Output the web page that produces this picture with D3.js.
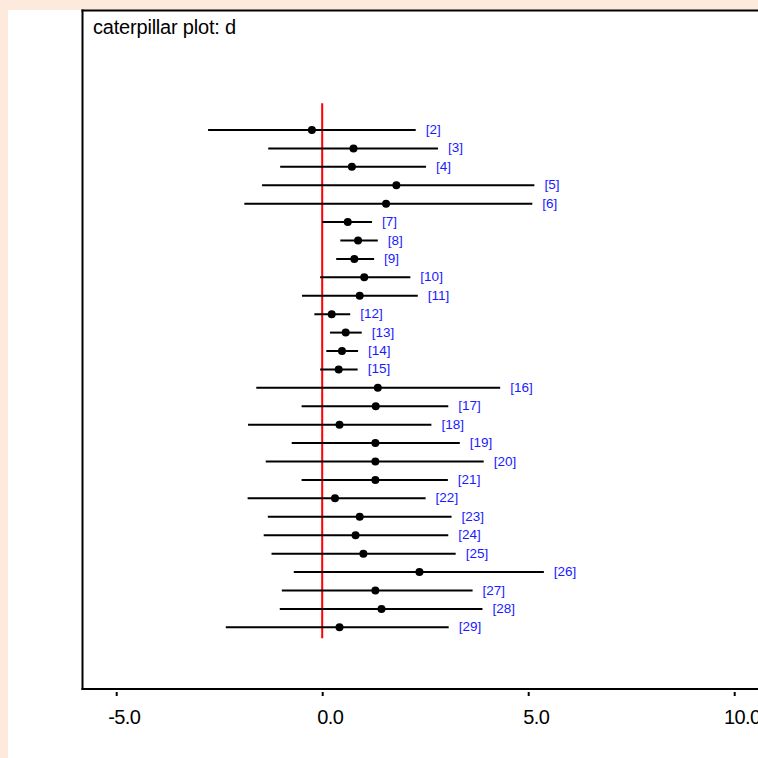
<!DOCTYPE html>
<html>
<head>
<meta charset="utf-8">
<script src="https://cdn.jsdelivr.net/npm/d3@7"></script>
<style>
  html, body { margin: 0; padding: 0; background: #fdeadc; }
  svg { display: block; }
</style>
</head>
<body>
<svg id="chart" width="758" height="758"></svg>
<script>
// Node labels, posterior means and interval bounds for each row
const nodes = ["[2]","[3]","[4]","[5]","[6]","[7]","[8]","[9]","[10]","[11]","[12]","[13]","[14]","[15]",
               "[16]","[17]","[18]","[19]","[20]","[21]","[22]","[23]","[24]","[25]","[26]","[27]","[28]","[29]"];
const means = [-0.25, 0.76, 0.72, 1.80, 1.55, 0.62, 0.87, 0.78, 1.02, 0.91, 0.23, 0.57, 0.48, 0.40,
               1.35, 1.30, 0.42, 1.29, 1.29, 1.29, 0.31, 0.91, 0.81, 1.00, 2.36, 1.29, 1.44, 0.42];
const lower = [-2.77, -1.31, -1.02, -1.46, -1.89, 0.00, 0.44, 0.34, -0.05, -0.49, -0.19, 0.19, 0.10, -0.05,
               -1.60, -0.50, -1.80, -0.74, -1.37, -0.50, -1.81, -1.32, -1.42, -1.23, -0.69, -0.98, -1.03, -2.34];
const upper = [2.27, 2.81, 2.52, 5.15, 5.10, 1.21, 1.35, 1.26, 2.14, 2.32, 0.68, 0.96, 0.87, 0.86,
               4.32, 3.06, 2.65, 3.34, 3.92, 3.05, 2.51, 3.14, 3.06, 3.24, 5.38, 3.65, 3.89, 3.07];
const xTicks = [-5, 0, 5, 10];
const title = "caterpillar plot: d";
const refValue = 0;

const rows = nodes.map((n, i) => ({ name: n, mean: means[i], lo: lower[i], hi: upper[i], i }));

const svg = d3.select("#chart");
const font = "'Liberation Sans', Arial, sans-serif";

// white panel on the peach page
svg.append("rect").attr("x", 8).attr("y", 10).attr("width", 750).attr("height", 748).attr("fill", "#ffffff");

const x = d3.scaleLinear().domain([-5, 10]).range([116.2, 734.2]);
const y = d3.scaleLinear().domain([0, rows.length - 1]).range([130, 627.3]);

const frameLeft = 82.5, frameTop = 10.5, frameBottom = 689;

// reference line at zero
svg.append("line")
  .attr("x1", x(refValue)).attr("x2", x(refValue))
  .attr("y1", y(-1.45)).attr("y2", y(rows.length - 1 + 0.6))
  .attr("stroke", "#ff0000").attr("stroke-width", 2);

// interval lines
svg.append("g").selectAll("line").data(rows).join("line")
  .attr("x1", d => x(d.lo)).attr("x2", d => x(d.hi))
  .attr("y1", d => y(d.i)).attr("y2", d => y(d.i))
  .attr("stroke", "#000").attr("stroke-width", 2);

// means
svg.append("g").selectAll("circle").data(rows).join("circle")
  .attr("cx", d => x(d.mean)).attr("cy", d => y(d.i)).attr("r", 4)
  .attr("fill", "#000");

// node labels
svg.append("g").selectAll("text").data(rows).join("text")
  .attr("x", d => x(d.hi) + 10).attr("y", d => y(d.i))
  .attr("dy", "0.3em")
  .attr("font-family", font).attr("font-size", 13.5)
  .attr("fill", "#1a1aff")
  .text(d => d.name);

// frame
svg.append("line").attr("x1", frameLeft).attr("x2", frameLeft).attr("y1", frameTop - 1).attr("y2", frameBottom + 1)
  .attr("stroke", "#000").attr("stroke-width", 2);
svg.append("line").attr("x1", frameLeft - 1).attr("x2", 758).attr("y1", frameTop).attr("y2", frameTop)
  .attr("stroke", "#000").attr("stroke-width", 2);
svg.append("line").attr("x1", frameLeft - 1).attr("x2", 758).attr("y1", frameBottom).attr("y2", frameBottom)
  .attr("stroke", "#000").attr("stroke-width", 2);

// x axis, labels written with a plain hyphen for negatives
const fmt = d3.format(".1f");
const axis = d3.axisBottom(x).tickValues(xTicks).tickFormat(d => fmt(d).replace("\u2212", "-"))
  .tickSize(4).tickSizeOuter(0).tickPadding(13.3);
const gx = svg.append("g").attr("transform", `translate(0,${frameBottom + 3})`).call(axis);
gx.select(".domain").remove();
gx.selectAll(".tick line").attr("stroke", "#000").attr("stroke-width", 2);
gx.selectAll(".tick text")
  .attr("dx", 7.5)
  .attr("fill", "#000")
  .attr("font-family", font).attr("font-size", 20)
  .attr("letter-spacing", -0.6);

// title
svg.append("text").attr("x", 93).attr("y", 34)
  .attr("font-family", font).attr("font-size", 20).attr("fill", "#000")
  .attr("letter-spacing", -0.2)
  .text(title);
</script>
</body>
</html>
